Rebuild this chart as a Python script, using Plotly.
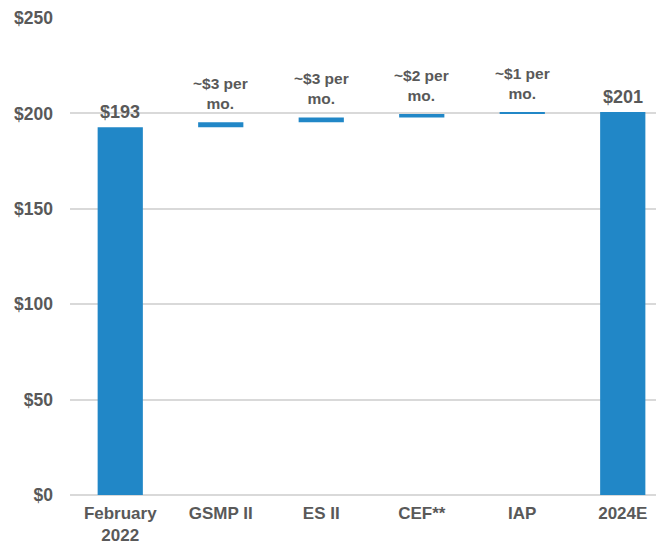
import plotly.graph_objects as go

# data
categories = ["February<br>2022", "GSMP II", "ES II", "CEF**", "IAP", "2024E"]
bar_base = [0, 192.8, 195.3, 197.9, 199.7, 0]
bar_value = [192.8, 2.5, 2.6, 1.8, 1.0, 200.7]
bar_labels = ["$193", "~$3 per<br>mo.", "~$3 per<br>mo.", "~$2 per<br>mo.", "~$1 per<br>mo.", "$201"]
y_ticks = [0, 50, 100, 150, 200, 250]

BLUE = "#2187C7"
GREY = "#595959"
FONT = "Liberation Sans, Arial, sans-serif"

x_pos = list(range(len(categories)))

fig = go.Figure()
fig.add_trace(go.Bar(
    x=x_pos, y=bar_value, base=bar_base,
    width=0.45, marker=dict(color=BLUE, line=dict(width=0)),
    hoverinfo="skip", showlegend=False,
))

# labels above each bar top
for i, (b, v, t) in enumerate(zip(bar_base, bar_value, bar_labels)):
    big = not t.startswith("~")
    fig.add_annotation(
        x=i, y=b + v, text=f"<b>{t}</b>", showarrow=False,
        yanchor="bottom", yshift=3 if big else 8,
        font=dict(family=FONT, size=18 if big else 15.5, color=GREY),
    )

# page body adds an 8px offset, so margins are trimmed by that
fig.update_layout(
    width=664, height=545,
    margin=dict(l=62, r=0, t=10, b=58),
    plot_bgcolor="white", paper_bgcolor="white",
    font=dict(family=FONT, color=GREY),
    bargap=0.55,
)
fig.update_xaxes(
    range=[-0.5, 5.49], tickvals=x_pos,
    ticktext=[f"<b>{c}</b>" for c in categories],
    tickfont=dict(size=17, color=GREY, family=FONT),
    showgrid=False, zeroline=False, showline=False, ticks="",
    ticklabelstandoff=6,
)
fig.update_yaxes(
    range=[0, 250], tickvals=y_ticks,
    ticktext=[f"<b>${v}</b>" for v in y_ticks],
    tickfont=dict(size=17.5, color=GREY, family=FONT),
    showgrid=True, gridcolor="#D9D9D9", gridwidth=1.5,
    zeroline=True, zerolinecolor="#D9D9D9", zerolinewidth=1.5,
    ticks="", ticklabelstandoff=16,
)

fig.write_html("out.html")
